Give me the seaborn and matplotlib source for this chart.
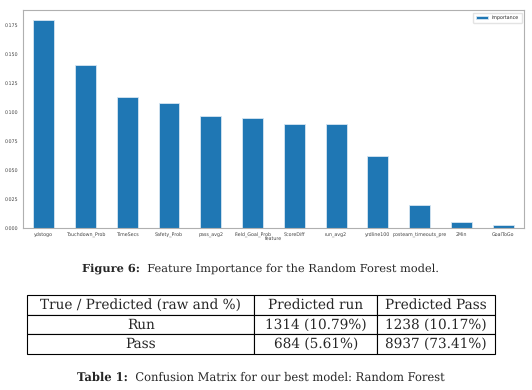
import matplotlib
matplotlib.use("Agg")
import matplotlib.pyplot as plt
import seaborn as sns
import pandas as pd

features = ["ydstogo", "Touchdown_Prob", "TimeSecs", "Safety_Prob", "pass_avg2",
            "Field_Goal_Prob", "ScoreDiff", "run_avg2", "yrdline100",
            "posteam_timeouts_pre", "2Min", "GoalToGo"]
importance = [0.179, 0.140, 0.1125, 0.1076, 0.0967, 0.0947, 0.0893, 0.0893,
              0.0621, 0.0200, 0.0051, 0.0028]

table_header = ["True / Predicted (raw and %)", "Predicted run", "Predicted Pass"]
table_rows = [["Run", "1314 (10.79%)", "1238 (10.17%)"],
              ["Pass", "684 (5.61%)", "8937 (73.41%)"]]

df = pd.DataFrame({"feature": features, "importance": importance})

sns.set_style("white")
plt.rcParams["text.hinting"] = "no_hinting"
fig = plt.figure(figsize=(5.32, 3.9), dpi=100)
ax = fig.add_axes([0.043, 0.415, 0.942, 0.559])

sns.barplot(data=df, x="feature", y="importance", color="#1f77b4", saturation=1,
            width=0.5, edgecolor="#d6e6f2", linewidth=0.6, label="importance", ax=ax)
ax.set_xlim(-0.5, len(features) - 0.5)
ax.set_ylim(0, 0.1875)
ax.set_yticks([i * 0.025 for i in range(8)])
ax.set_yticklabels([f"{i * 0.025:.3f}" for i in range(8)])
ax.tick_params(labelsize=3.4, length=1.5, width=0.4, pad=1.5, colors="#444444")
ax.set_xlabel("feature", fontsize=3.4, labelpad=-0.5, color="#444444")
ax.set_ylabel("")
for s in ax.spines.values():
    s.set_color("#b0b0b0")
    s.set_linewidth(0.8)
ax.legend(fontsize=3.4, loc="upper right", frameon=True, edgecolor="#dddddd",
          handlelength=2.5, borderpad=0.6)

serif = ["DejaVu Serif"]


# caption placed as one centred line: bold label + plain text
def caption(y, label, text, size=8.2):
    t1 = fig.text(0, y, label, ha="left", va="center", fontsize=size,
                  family=serif, weight="bold")
    t2 = fig.text(0, y, "  " + text, ha="left", va="center", fontsize=size,
                  family=serif)
    fig.canvas.draw()
    r = fig.canvas.get_renderer()
    w1 = t1.get_window_extent(r).width / fig.bbox.width
    w2 = t2.get_window_extent(r).width / fig.bbox.width
    x0 = 0.49 - (w1 + w2) / 2
    t1.set_x(x0)
    t2.set_x(x0 + w1)


caption(0.31, "Figure 6:", "Feature Importance for the Random Forest model.")

tax = fig.add_axes([0.051, 0.092, 0.880, 0.152])
tax.axis("off")
tbl = tax.table(cellText=[table_header] + table_rows, cellLoc="center",
                colWidths=[227, 123, 118], bbox=[0, 0, 1, 1])
tbl.auto_set_font_size(False)
for (r, c), cell in tbl.get_celld().items():
    cell.set_linewidth(0.8)
    cell.set_edgecolor("black")
    cell.get_text().set_fontsize(9.8)
    cell.get_text().set_family(serif)

caption(0.033, "Table 1:", "Confusion Matrix for our best model: Random Forest", 8.3)

fig.savefig("out.png", dpi=100)
